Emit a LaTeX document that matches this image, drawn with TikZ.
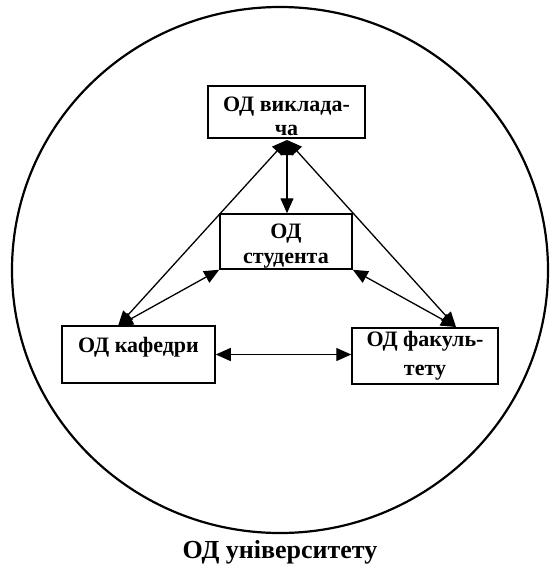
\documentclass[tikz,border=0pt]{standalone}
\usepackage{fontspec}
\setmainfont{Liberation Serif}
\usetikzlibrary{arrows.meta}

\begin{document}
\begin{tikzpicture}[x=1pt,y=-1pt]

          \tikzstyle{odBox} = [draw, line width=1.5pt, inner sep=0pt, align=center,
                               font=\fontsize{22}{25}\selectfont\bfseries];
          \tikzstyle{odText} = [inner sep=0pt, font=\fontsize{26}{30}\selectfont\bfseries];
          \tikzstyle{odEdge} = [line width=1.3pt, {Triangle[length=15pt,width=13pt]}-{Triangle[length=15pt,width=13pt]}];

          \useasboundingbox (0,0) rectangle (560,571);

          \draw[line width=2.2pt] (280,270) ellipse (268 and 263);

          \node[odBox, minimum width=157pt, minimum height=52pt] (vykl) at (286.5,112) {\rule{0pt}{23pt}ОД виклада-\\[-1pt]ча};
          \node[odBox, minimum width=132pt, minimum height=55pt] (stud) at (286,241.5) {\rule{0pt}{23pt}ОД\\студента};
          \node[odBox, minimum width=153pt, minimum height=57pt] (kaf) at (138.5,354.5) {\rule{0pt}{21pt}ОД кафедри\\~};
          \node[odBox, minimum width=146pt, minimum height=56pt] (fak) at (425,356) {ОД факуль-\\[4pt]тету};
          \node[odText] (univ) at (280,552) {ОД університету};

          \coordinate (apex) at (287,140);
          \coordinate (kafTip) at (118,326);
          \coordinate (fakTip) at (456,327);

          \draw[odEdge] (apex) -- (stud.north -| apex);
          \draw[odEdge] (apex) -- (kafTip);
          \draw[odEdge] (apex) -- (fakTip);
          \draw[odEdge] (stud.south west) -- (kafTip);
          \draw[odEdge] (stud.south east) -- (fakTip);
          \draw[odEdge] (kaf.east) -- (kaf.east -| fak.west);
        \end{tikzpicture}
\end{document}
